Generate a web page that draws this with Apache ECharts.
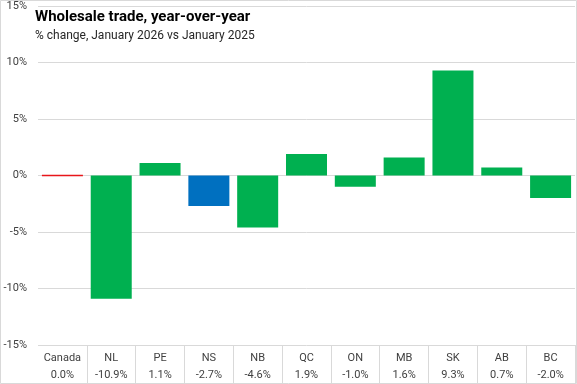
<!DOCTYPE html>
<html>
<head>
<meta charset="utf-8">
<script src="https://cdn.jsdelivr.net/npm/echarts@6/dist/echarts.min.js"></script>
<style>
html,body{margin:0;padding:0;background:#fff;}
#c{width:577px;height:384px;}
</style>
</head>
<body>
<div id="c"></div>
<script>
// Data
const categories = ['Canada', 'NL', 'PE', 'NS', 'NB', 'QC', 'ON', 'MB', 'SK', 'AB', 'BC'];
const values = [0.0, -10.9, 1.1, -2.7, -4.6, 1.9, -1.0, 1.6, 9.3, 0.7, -2.0];
const yTicks = [-15, -10, -5, 0, 5, 10, 15];
const titleText = 'Wholesale trade, year-over-year';
const subtitleText = '% change, January 2026 vs January 2025';

const FONT = 'Roboto';
const GREEN = '#00b050', BLUE = '#0070c0', RED = '#e8161b';
const colorFor = (c) => c === 'Canada' ? RED : (c === 'NS' ? BLUE : GREEN);

const chart = echarts.init(document.getElementById('c'), null, {renderer: 'canvas'});
chart.setOption({
  animation: false,
  backgroundColor: '#fff',
  textStyle: {fontFamily: FONT},
  title: {
    text: titleText,
    subtext: subtitleText,
    left: 30,
    top: 5,
    itemGap: 5,
    textStyle: {fontFamily: FONT, fontSize: 15, fontWeight: 'bold', color: '#000'},
    subtextStyle: {fontFamily: FONT, fontSize: 12, color: '#262626'}
  },
  grid: {left: 38, right: 2, top: 6, bottom: 38, containLabel: false},
  xAxis: {
    type: 'category',
    data: categories,
    position: 'bottom',
    axisLine: {show: false, onZero: false},
    axisTick: {
      show: true,
      alignWithLabel: false,
      length: 38,
      interval: function (i) { return i !== 0; },
      lineStyle: {color: '#d9d9d9', width: 1}
    },
    axisLabel: {
      interval: 0,
      margin: 5,
      fontFamily: FONT,
      fontSize: 11,
      color: '#404040',
      lineHeight: 17,
      formatter: function (v, i) {
        return v + '\n' + values[i].toFixed(1) + '%';
      }
    }
  },
  yAxis: {
    type: 'value',
    min: yTicks[0],
    max: yTicks[yTicks.length - 1],
    interval: 5,
    axisLine: {show: false},
    axisTick: {show: false},
    splitLine: {lineStyle: {color: '#d9d9d9', width: 1}},
    axisLabel: {
      margin: 11,
      fontFamily: FONT,
      fontSize: 11,
      color: '#404040',
      formatter: '{value}%'
    }
  },
  graphic: [{
    type: 'rect',
    shape: {x: 0.5, y: 0.5, width: 576, height: 383},
    style: {fill: 'none', stroke: '#d9d9d9', lineWidth: 1},
    silent: true,
    z: 100
  }],
  series: [{
    type: 'bar',
    barCategoryGap: '16%',
    z: 5,
    data: values.map((v, i) => ({
      value: v,
      itemStyle: categories[i] === 'Canada'
        ? {color: colorFor(categories[i]), borderColor: colorFor(categories[i]), borderWidth: 1.4}
        : {color: colorFor(categories[i])}
    }))
  }]
});
</script>
</body>
</html>
